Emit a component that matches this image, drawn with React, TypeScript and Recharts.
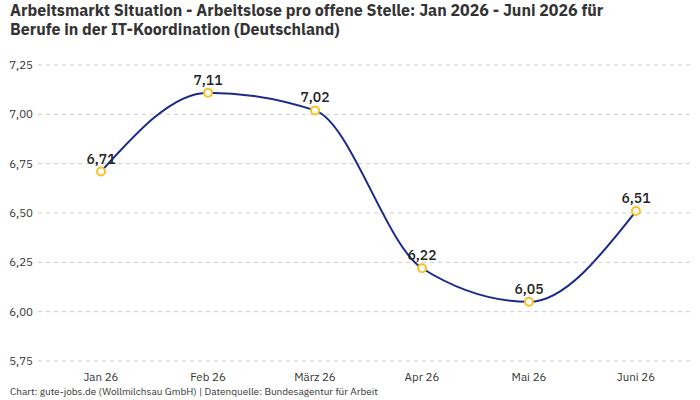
import React from "react";
import {
  LineChart,
  Line,
  XAxis,
  YAxis,
  CartesianGrid,
  LabelList,
} from "recharts";

const months = ["Jan 26", "Feb 26", "März 26", "Apr 26", "Mai 26", "Juni 26"];
const ratio = [6.71, 7.11, 7.02, 6.22, 6.05, 6.51];
const yTicks = [5.75, 6.0, 6.25, 6.5, 6.75, 7.0, 7.25];

const data = months.map((month, i) => ({ month, value: ratio[i] }));

const fmt = (v: number, digits: number) => v.toFixed(digits).replace(".", ",");

const FONT = "'IBM Plex Sans', Roboto, 'Noto Sans', sans-serif";

export default function App() {
  return (
    <div
      style={{
        position: "fixed",
        left: 0,
        top: 0,
        width: 700,
        height: 400,
        background: "#fff",
        fontFamily: FONT,
      }}
    >
      <div
        style={{
          position: "absolute",
          left: 10,
          top: 1,
          fontSize: 16,
          fontWeight: 700,
          lineHeight: "19px",
          color: "#333",
          width: 680,
        }}
      >
        Arbeitsmarkt Situation - Arbeitslose pro offene Stelle: Jan 2026 - Juni 2026 für
        <br />
        Berufe in der IT-Koordination (Deutschland)
      </div>
      <div style={{ position: "absolute", left: 0, top: 0 }}>
        <LineChart
          width={700}
          height={400}
          data={data}
          margin={{ top: 65, right: 10, bottom: 9, left: 0 }}
        >
          <CartesianGrid
            vertical={false}
            stroke="#cccccc"
            strokeDasharray="4 4"
          />
          <XAxis
            dataKey="month"
            axisLine={false}
            tickLine={false}
            height={30}
            padding={{ left: 63, right: 54 }}
            tick={{ fill: "#333", fontSize: 11.5, fontFamily: FONT }}
            tickMargin={6}
            interval={0}
          />
          <YAxis
            width={38}
            domain={[5.75, 7.25]}
            ticks={yTicks}
            axisLine={false}
            tickLine={false}
            tickSize={0}
            tickMargin={5}
            tickFormatter={(v: number) => fmt(v, 2)}
            tick={{ fill: "#333", fontSize: 11.5, fontFamily: FONT }}
          />
          <Line
            type="monotone"
            dataKey="value"
            stroke="#1a2a8a"
            strokeWidth={2}
            dot={{ r: 4, stroke: "#f9c31f", strokeWidth: 2, fill: "#fff" }}
            activeDot={false}
            isAnimationActive={false}
          >
            <LabelList
              dataKey="value"
              position="top"
              offset={8}
              formatter={(v: number) => fmt(v, 2)}
              style={{
                fill: "#222",
                fontSize: 14,
                fontWeight: 500,
                fontFamily: FONT,
              }}
            />
          </Line>
        </LineChart>
      </div>
      <div
        style={{
          position: "absolute",
          left: 10,
          top: 386,
          fontSize: 10,
          color: "#333",
          lineHeight: "12px",
        }}
      >
        Chart: gute-jobs.de (Wollmilchsau GmbH) | Datenquelle: Bundesagentur für Arbeit
      </div>
    </div>
  );
}
